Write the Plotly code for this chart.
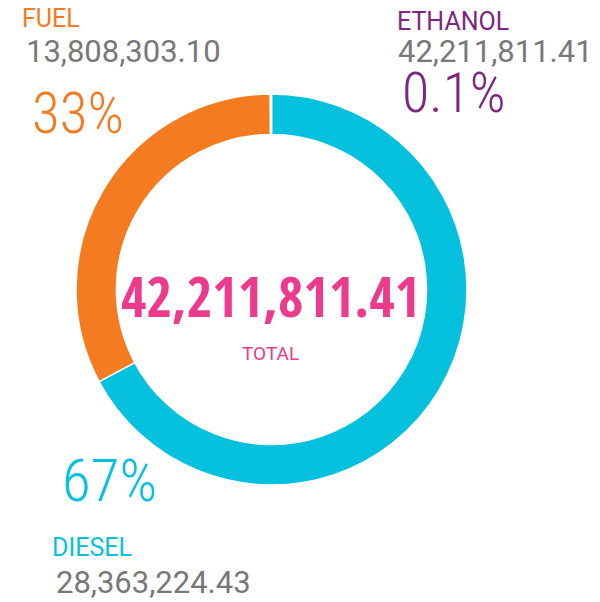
import plotly.graph_objects as go

# The page body has an 8px default margin; the figure is sized to fill the
# 600x602 window exactly and all positions below are given in window pixels.
OFF = 8
W, H = 600 - OFF, 602 - OFF

categories = ["DIESEL", "FUEL", "ETHANOL"]
values = [28363224.43, 13808303.10, 40283.88]
value_labels = ["28,363,224.43", "13,808,303.10", "42,211,811.41"]
pct_labels = ["67%", "33%", "0.1%"]
total_label = "42,211,811.41"
total_caption = "TOTAL"
colors = ["#06C1DE", "#F47B20", "#7D2682"]

GRAY = "#787878"
PINK = "#EC3A8C"
COND = "Roboto Condensed, Open Sans Condensed, Roboto, sans-serif"
COND_BOLD = "Open Sans Condensed, Roboto Condensed, Roboto, sans-serif"
SANS = "Roboto, Arial, sans-serif"


def px(x):
    return (x - OFF) / W


def py(y):
    return 1 - (y - OFF) / H


cx, cy, r = 271.5, 289.5, 195.5

fig = go.Figure(
    go.Pie(
        labels=categories,
        values=values,
        sort=False,
        direction="clockwise",
        rotation=0,
        hole=0.793,
        marker=dict(colors=colors, line=dict(color="white", width=1.5)),
        textinfo="none",
        hoverinfo="label+value+percent",
        showlegend=False,
        domain=dict(x=[px(cx - r), px(cx + r)], y=[py(cy + r), py(cy - r)]),
    )
)

ann = []


def add(text, x, y, size, color, font=SANS, xanchor="left", weight="normal"):
    ann.append(
        dict(
            text=text,
            x=px(x),
            y=py(y),
            xref="paper",
            yref="paper",
            xanchor=xanchor,
            yanchor="middle",
            showarrow=False,
            borderpad=0,
            font=dict(family=font, size=size, color=color, weight=weight),
        )
    )


PAD = 2  # annotation box padding before the glyphs

# FUEL block
add(categories[1], 23 - PAD, 18, 25, colors[1])
add(value_labels[1], 27 - PAD, 51, 31, GRAY)
add(pct_labels[1], 33 - PAD, 114, 57, colors[1], font=COND, weight=300)

# ETHANOL block
add(categories[2], 398 - PAD, 21.5, 25, colors[2])
add(value_labels[2], 399 - PAD, 51, 31, GRAY)
add(pct_labels[2], 403 - PAD, 92.5, 56, colors[2], font=COND, weight=300)

# DIESEL block
add(pct_labels[0], 63 - PAD, 480, 59, colors[0], font=COND, weight=300)
add(categories[0], 53 - PAD, 547.5, 25, colors[0])
add(value_labels[0], 57 - PAD, 582.5, 31, GRAY)

# Center
add(total_label, 270, 295.5, 55, PINK, font=COND_BOLD, xanchor="center", weight="bold")
add(total_caption, 270, 353.5, 19, PINK, xanchor="center")

fig.update_layout(
    width=W,
    height=H,
    margin=dict(l=0, r=0, t=0, b=0),
    paper_bgcolor="white",
    plot_bgcolor="white",
    annotations=ann,
)

fig.write_html("out.html")
